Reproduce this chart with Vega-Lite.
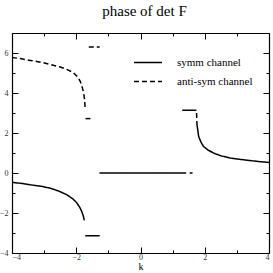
{
  "$schema": "https://vega.github.io/schema/vega-lite/v6.json",
  "width": 257,
  "height": 220,
  "autosize": {"type": "none"},
  "padding": {"left": 12, "top": 33, "right": 4, "bottom": 20},
  "background": "white",
  "title": {"text": "phase of det F", "font": "Liberation Serif", "fontSize": 15, "fontWeight": "normal", "color": "black", "anchor": "middle", "offset": 14, "dx": 4},
  "config": {
    "view": {"stroke": null},
    "axis": {"grid": false, "domainColor": "black", "domainWidth": 1.2, "tickColor": "black", "tickWidth": 1, "labelFont": "Liberation Serif", "labelFontSize": 8, "labelColor": "#333", "titleFont": "Liberation Serif", "titleFontWeight": "normal", "titleFontSize": 10, "titleColor": "black"}
  },
  "data": {"values": [
    {"k": -4, "phase": -0.47, "channel": "symm channel", "seg": "s1"},
    {"k": -3.7, "phase": -0.52, "channel": "symm channel", "seg": "s1"},
    {"k": -3.43, "phase": -0.59, "channel": "symm channel", "seg": "s1"},
    {"k": -3.1, "phase": -0.66, "channel": "symm channel", "seg": "s1"},
    {"k": -2.81, "phase": -0.76, "channel": "symm channel", "seg": "s1"},
    {"k": -2.55, "phase": -0.9, "channel": "symm channel", "seg": "s1"},
    {"k": -2.29, "phase": -1.09, "channel": "symm channel", "seg": "s1"},
    {"k": -2.1, "phase": -1.3, "channel": "symm channel", "seg": "s1"},
    {"k": -1.98, "phase": -1.5, "channel": "symm channel", "seg": "s1"},
    {"k": -1.89, "phase": -1.72, "channel": "symm channel", "seg": "s1"},
    {"k": -1.83, "phase": -1.92, "channel": "symm channel", "seg": "s1"},
    {"k": -1.78, "phase": -2.15, "channel": "symm channel", "seg": "s1"},
    {"k": -1.75, "phase": -2.37, "channel": "symm channel", "seg": "s1"},
    {"k": -1.72, "phase": -3.14, "channel": "symm channel", "seg": "s2"},
    {"k": -1.27, "phase": -3.14, "channel": "symm channel", "seg": "s2"},
    {"k": -1.28, "phase": 0, "channel": "symm channel", "seg": "s3"},
    {"k": 1.42, "phase": 0, "channel": "symm channel", "seg": "s3"},
    {"k": 1.3, "phase": 3.14, "channel": "symm channel", "seg": "s4"},
    {"k": 1.74, "phase": 3.14, "channel": "symm channel", "seg": "s4"},
    {"k": 1.765, "phase": 2.35, "channel": "symm channel", "seg": "s5"},
    {"k": 1.81, "phase": 1.83, "channel": "symm channel", "seg": "s5"},
    {"k": 1.88, "phase": 1.55, "channel": "symm channel", "seg": "s5"},
    {"k": 1.96, "phase": 1.33, "channel": "symm channel", "seg": "s5"},
    {"k": 2.1, "phase": 1.15, "channel": "symm channel", "seg": "s5"},
    {"k": 2.27, "phase": 1.0, "channel": "symm channel", "seg": "s5"},
    {"k": 2.5, "phase": 0.86, "channel": "symm channel", "seg": "s5"},
    {"k": 2.79, "phase": 0.75, "channel": "symm channel", "seg": "s5"},
    {"k": 3.1, "phase": 0.68, "channel": "symm channel", "seg": "s5"},
    {"k": 3.42, "phase": 0.62, "channel": "symm channel", "seg": "s5"},
    {"k": 3.7, "phase": 0.57, "channel": "symm channel", "seg": "s5"},
    {"k": 4, "phase": 0.53, "channel": "symm channel", "seg": "s5"},
    {"k": -4, "phase": 5.78, "channel": "anti-sym channel", "seg": "a1"},
    {"k": -3.7, "phase": 5.71, "channel": "anti-sym channel", "seg": "a1"},
    {"k": -3.43, "phase": 5.63, "channel": "anti-sym channel", "seg": "a1"},
    {"k": -3.1, "phase": 5.54, "channel": "anti-sym channel", "seg": "a1"},
    {"k": -2.8, "phase": 5.42, "channel": "anti-sym channel", "seg": "a1"},
    {"k": -2.5, "phase": 5.3, "channel": "anti-sym channel", "seg": "a1"},
    {"k": -2.28, "phase": 5.17, "channel": "anti-sym channel", "seg": "a1"},
    {"k": -2.1, "phase": 5.03, "channel": "anti-sym channel", "seg": "a1"},
    {"k": -1.97, "phase": 4.83, "channel": "anti-sym channel", "seg": "a1"},
    {"k": -1.88, "phase": 4.6, "channel": "anti-sym channel", "seg": "a1"},
    {"k": -1.82, "phase": 4.33, "channel": "anti-sym channel", "seg": "a1"},
    {"k": -1.77, "phase": 4.0, "channel": "anti-sym channel", "seg": "a1"},
    {"k": -1.74, "phase": 3.67, "channel": "anti-sym channel", "seg": "a1"},
    {"k": -1.72, "phase": 3.17, "channel": "anti-sym channel", "seg": "a1"},
    {"k": -1.71, "phase": 2.72, "channel": "anti-sym channel", "seg": "a2"},
    {"k": -1.56, "phase": 2.72, "channel": "anti-sym channel", "seg": "a2"},
    {"k": -1.61, "phase": 6.3, "channel": "anti-sym channel", "seg": "a3"},
    {"k": -1.27, "phase": 6.3, "channel": "anti-sym channel", "seg": "a3"},
    {"k": 1.53, "phase": 0, "channel": "anti-sym channel", "seg": "a4"},
    {"k": 1.62, "phase": 0, "channel": "anti-sym channel", "seg": "a4"},
    {"k": 1.745, "phase": 3.0, "channel": "anti-sym channel", "seg": "a5"},
    {"k": 1.76, "phase": 2.35, "channel": "anti-sym channel", "seg": "a5"}
  ]},
  "layer": [
    {
      "mark": {"type": "line", "color": "black", "strokeWidth": 1.5, "clip": true},
      "encoding": {
        "x": {"field": "k", "type": "quantitative", "scale": {"domain": [-4, 4], "nice": false},
          "axis": {"orient": "bottom", "values": [-4, -3, -2, -1, 0, 1, 2, 3, 4], "labelExpr": "datum.value % 2 == 0 ? datum.label : ''",
            "tickSize": {"condition": {"test": "datum.value % 2 == 0", "value": -6}, "value": -3}, "labelPadding": 6, "title": "k", "titlePadding": 0}},
        "y": {"field": "phase", "type": "quantitative", "scale": {"domain": [-4, 7], "nice": false},
          "axis": {"orient": "left", "values": [-4, -3, -2, -1, 0, 1, 2, 3, 4, 5, 6, 7], "labelExpr": "datum.value % 2 == 0 ? datum.label : ''",
            "tickSize": {"condition": {"test": "datum.value % 2 == 0", "value": -6}, "value": -3}, "labelPadding": 10, "title": null}},
        "detail": {"field": "seg"},
        "strokeDash": {"field": "channel", "type": "nominal", "scale": {"domain": ["symm channel", "anti-sym channel"], "range": [[1, 0], [5, 3]]},
          "legend": {"orient": "none", "legendX": 121, "legendY": 20, "title": null, "symbolType": "stroke", "symbolSize": 784, "symbolStrokeWidth": 1.5, "symbolStrokeColor": "black", "labelFont": "Liberation Serif", "labelFontSize": 11, "labelColor": "black", "labelOffset": 14, "clipHeight": 19, "rowPadding": 0, "padding": 0}}
      }
    },
    {
      "mark": {"type": "line", "opacity": 0},
      "encoding": {
        "x": {"field": "k", "type": "quantitative", "scale": {"domain": [-4, 4], "nice": false},
          "axis": {"orient": "top", "values": [-4, -3, -2, -1, 0, 1, 2, 3, 4], "labels": false, "title": null,
            "tickSize": {"condition": {"test": "datum.value % 2 == 0", "value": -6}, "value": -3}}},
        "y": {"field": "phase", "type": "quantitative", "scale": {"domain": [-4, 7], "nice": false},
          "axis": {"orient": "right", "values": [-4, -3, -2, -1, 0, 1, 2, 3, 4, 5, 6, 7], "labels": false, "title": null,
            "tickSize": {"condition": {"test": "datum.value % 2 == 0", "value": -6}, "value": -3}}},
        "detail": {"field": "seg"}
      }
    }
  ],
  "resolve": {"axis": {"x": "independent", "y": "independent"}}
}
